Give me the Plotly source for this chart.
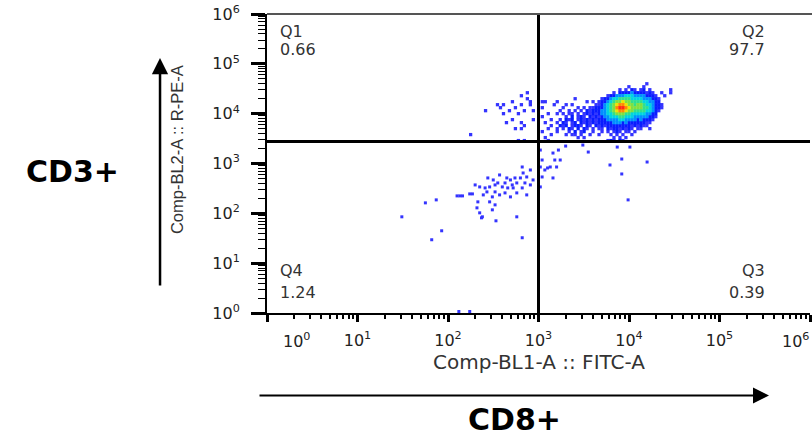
import plotly.graph_objects as go

# ---------------- data ----------------
quad_names = ["Q1", "Q2", "Q3", "Q4"]
quad_pct = ["0.66", "97.7", "0.39", "1.24"]
gate_fitc = 1000      # vertical quadrant gate, Comp-BL1-A :: FITC-A
gate_pe = 2750        # horizontal quadrant gate, Comp-BL2-A :: R-PE-A

decade_vals = [1, 10, 100, 1000, 10000, 100000, 1000000]
decade_text = ["10<sup>0</sup>", "10<sup>1</sup>", "10<sup>2</sup>", "10<sup>3</sup>",
               "10<sup>4</sup>", "10<sup>5</sup>", "10<sup>6</sup>"]

x_title = "Comp-BL1-A :: FITC-A"
y_title = "Comp-BL2-A :: R-PE-A"
x_marker = "CD8+"
y_marker = "CD3+"

# pseudocolor density map of the upper events (bins in log10 units)
grid_log_fitc0 = 2.25
grid_step_fitc = 0.033
grid_log_pe0 = 4.6
grid_step_pe = 0.06
# each row: "start_bin:levels"  ('.' = empty bin, 1..9 = density level)
density_rows = [
    ["59:1"],
    ["53:1", "58:1"],
    ["50:1.1.2 1.12. 1", "67:1"],
    ["19:1", "48:1.222 23222 2121", "64:1", "67:1"],
    ["17:1", "46:12233 34443 33322 21", "65:1"],
    ["19:1", "35:1", "44:12234 45555 44443 33221"],
    ["14:1", "20:1", "24:11", "29:1", "39:1.1", "43:12234 56676 65555 44332 2"],
    ["9:1.1", "17:1", "20:1", "28:1", "32:1.1", "42:11234 56788 76656 65443 221"],
    ["10:1", "15:1", "24:1", "31:1", "36:1.1", "40:11222 34568 99876 66655 43221"],
    ["5:1", "13:1", "18:1", "21:1", "30:1..1.1.1", "39:21222 33456 78876 65555 44321"],
    ["11:1", "16:1", "26:1", "29:1.1.1 1.1.1 21212 33445 66655 44444 3322"],
    ["24:1", "32:1.2.1 21.21 21233 44455 44433 33322 1"],
    ["14:1", "21:1", "27:1", "30:1.212 .1212 12122 23333 44333 32322 21"],
    ["12:1", "17:1", "25:1", "29:1.21. 12.21 21212 22223 33232 22222 11"],
    ["18:1", "27:1..21 2.122 1.21. 21212 22222 22121 211"],
    ["15:1", "17:1", "26:1", "29:1.1.2 1.2.2 1.1.1 1.212 21212 1.11. .1"],
    ["24:1", "29:1", "33:1.2.1 2..1. .1.1. 121.1 1.1"],
    ["0:1", "27:1", "32:1", "34:11.1", "40:1", "43:1", "47:1", "49:1", "51:1", "54:1"],
    ["25:1", "36:1", "38:1", "48:1", "50:1", "52:1"],
    ["16:1", "18:1", "26:1", "46:121.21"],
]

# sparse single events below the horizontal gate (log10 FITC, log10 PE)
sparse_log_fitc = [3.02, 3.22, 3.18, 3.24, 3.04, 3.02, 3.13, 3.07, 3.10, 3.20,
                   2.91, 2.82, 2.83, 2.87, 2.80, 2.74, 2.69, 2.65, 2.63, 2.71,
                   2.76, 2.85, 2.91, 2.82, 2.72, 2.66, 2.60, 2.55, 2.50, 2.52,
                   2.46, 2.41, 2.35, 2.43, 2.52, 2.57, 2.63, 2.49, 2.39, 2.27,
                   2.13, 2.10, 2.33, 2.46, 2.52, 2.32, 2.49, 2.35, 2.38, 2.76,
                   3.04, 3.02, 3.16, 2.94, 2.76, 2.87, 2.69, 1.49, 1.75, 1.87,
                   1.82, 1.93, 2.16, 2.24, 2.82, 2.53, 2.37, 2.12, 2.24, 2.57,
                   2.44, 2.30, 3.16, 3.55, 3.49, 3.79, 3.92, 4.20, 3.92, 3.99,
                   4.01, 3.87, 3.30]
sparse_log_pe = [3.27, 3.27, 3.07, 3.07, 3.07, 2.93, 2.93, 2.87, 2.91, 2.93,
                 2.87, 2.93, 2.81, 2.73, 2.71, 2.71, 2.67, 2.71, 2.61, 2.57,
                 2.61, 2.61, 2.57, 2.51, 2.51, 2.51, 2.53, 2.61, 2.67, 2.57,
                 2.53, 2.51, 2.53, 2.43, 2.43, 2.37, 2.41, 2.33, 2.37, 2.39,
                 2.35, 2.35, 2.23, 2.23, 2.17, 2.11, 2.07, 2.01, 1.93, 1.93,
                 2.73, 2.53, 2.71, 2.67, 2.41, 2.37, 2.33, 1.93, 2.21, 2.27,
                 1.47, 1.65, 2.35, 2.39, 1.51, 1.85, 1.91, 0.03, 0.03, 2.77,
                 2.71, 2.57, 3.21, 3.23, 3.37, 2.97, 3.09, 3.03, 2.79, 2.27,
                 3.33, 3.33, 3.35]

level_colors = ["#3434ff", "#0a1cff", "#0090ff", "#00d4e0", "#30e08c",
                "#7ee040", "#eee400", "#ff8a00", "#ff2a12"]

# ---------------- build marks ----------------
cells = []
for r, segs in enumerate(density_rows):
    for seg in segs:
        start, digits = seg.split(":")
        digits = digits.replace(" ", "")
        for k, ch in enumerate(digits):
            if ch != ".":
                c = int(start) + k
                cells.append((int(ch),
                              10 ** (grid_log_fitc0 + c * grid_step_fitc),
                              10 ** (grid_log_pe0 - r * grid_step_pe)))
cells.sort(key=lambda t: t[0])

fig = go.Figure()
fig.add_trace(go.Scatter(
    x=[10 ** v for v in sparse_log_fitc], y=[10 ** v for v in sparse_log_pe],
    mode="markers", hoverinfo="skip",
    marker=dict(symbol="square", size=3, color=level_colors[0], line=dict(width=0))))
fig.add_trace(go.Scatter(
    x=[t[1] for t in cells], y=[t[2] for t in cells],
    mode="markers", hoverinfo="skip",
    marker=dict(symbol="square", size=3.3, color=[level_colors[t[0] - 1] for t in cells],
                line=dict(width=0))))
# quadrant gates
fig.add_trace(go.Scatter(x=[gate_fitc, gate_fitc], y=[decade_vals[0], decade_vals[-1]],
                         mode="lines", line=dict(color="black", width=3), hoverinfo="skip"))
fig.add_trace(go.Scatter(x=[decade_vals[0], decade_vals[-1]], y=[gate_pe, gate_pe],
                         mode="lines", line=dict(color="black", width=3), hoverinfo="skip"))

minor_vals = [m * d for d in decade_vals[:-1] for m in range(2, 10)]
tick_font = dict(family="DejaVu Sans", size=16, color="#222")

# x tick labels: the two end labels are drawn as annotations nudged inward (as in the source)
x_ticktext = [""] + decade_text[1:-1] + [""]

fig.update_layout(
    width=812, height=437, margin=dict(l=267, r=2, t=14, b=124, autoexpand=False),
    plot_bgcolor="white", paper_bgcolor="white", showlegend=False,
)
fig.update_xaxes(type="log", range=[0, 6], tickmode="array", tickvals=decade_vals,
                 ticktext=x_ticktext, ticks="outside", ticklen=7, tickwidth=3,
                 tickcolor="black", showline=True, linecolor="black", linewidth=2,
                 showgrid=False, zeroline=False, tickfont=tick_font, ticklabelstandoff=5,
                 automargin=False,
                 minor=dict(tickmode="array", tickvals=minor_vals, ticks="outside",
                            ticklen=4, tickwidth=1.5, tickcolor="black", showgrid=False))
fig.update_yaxes(type="log", range=[0, 6], tickmode="array", tickvals=decade_vals,
                 ticktext=decade_text, ticks="outside", ticklen=14, tickwidth=2.5,
                 tickcolor="black", showline=True, linecolor="black", linewidth=2,
                 showgrid=False, zeroline=False, tickfont=tick_font, ticklabelstandoff=8,
                 ticklabeloverflow="allow", automargin=False,
                 minor=dict(tickmode="array", tickvals=minor_vals, ticks="outside",
                            ticklen=7, tickwidth=1, tickcolor="black", showgrid=False))

for txt, xp in [(decade_text[0], 0.055), (decade_text[-1], 0.973)]:
    fig.add_annotation(text=txt, xref="paper", yref="paper", x=xp, y=-0.092,
                       xanchor="center", yanchor="middle", showarrow=False, font=tick_font)

# frame details
fig.add_shape(type="line", xref="paper", yref="paper", x0=0, x1=1.004, y0=1, y1=1,
              line=dict(color="#555", width=2))
fig.add_shape(type="line", xref="paper", yref="paper", x0=-0.022, x1=0, y0=0, y1=0,
              line=dict(color="black", width=2))
fig.add_shape(type="line", xref="paper", yref="paper", x0=0, x1=0, y0=-0.017, y1=0,
              line=dict(color="black", width=2))

qfont = dict(family="DejaVu Sans", size=16, color="#333")
quad_pos = {"Q1": (0.0203, "left", 0.9400, 0.8796),
            "Q2": (0.9208, "right", 0.9400, 0.8796),
            "Q3": (0.9208, "right", 0.1405, 0.0702),
            "Q4": (0.0203, "left", 0.1405, 0.0702)}
for name, pct in zip(quad_names, quad_pct):
    px_, anc, y_name, y_pct = quad_pos[name]
    fig.add_annotation(text=name, xref="paper", yref="paper", x=px_, y=y_name,
                       xanchor=anc, yanchor="middle", showarrow=False, font=qfont)
    fig.add_annotation(text=pct, xref="paper", yref="paper", x=px_, y=y_pct,
                       xanchor=anc, yanchor="middle", showarrow=False, font=qfont)

# axis titles
fig.add_annotation(text=x_title, xref="paper", yref="paper", x=0.5, y=-0.164,
                   xanchor="center", yanchor="middle", showarrow=False,
                   font=dict(family="DejaVu Sans", size=20, color="#333"))
fig.add_annotation(text=y_title, xref="paper", yref="paper", x=-0.1657, y=0.545,
                   xanchor="center", yanchor="middle", showarrow=False, textangle=-90,
                   font=dict(family="Liberation Sans Narrow, Liberation Sans", size=16.5, color="#333"))

# outer marker labels and arrows
big_font = dict(family="DejaVu Sans", size=30, color="black", weight="bold")
fig.add_annotation(text=y_marker, xref="paper", yref="paper", x=-0.359, y=0.4716,
                   xanchor="center", yanchor="middle", showarrow=False, font=big_font)
fig.add_annotation(text=x_marker, xref="paper", yref="paper", x=0.4567, y=-0.355,
                   xanchor="center", yanchor="middle", showarrow=False, font=big_font)
fig.add_annotation(text="", xref="paper", yref="paper", x=-0.197, y=0.853,
                   ax=0, ay=229, showarrow=True, arrowhead=2, arrowsize=1.3,
                   arrowwidth=2.5, arrowcolor="black", standoff=0)
fig.add_annotation(text="", xref="paper", yref="paper", x=0.9245, y=-0.276,
                   ax=-511, ay=0, showarrow=True, arrowhead=2, arrowsize=1.6,
                   arrowwidth=2, arrowcolor="black", standoff=0)

fig.write_html("out.html")
